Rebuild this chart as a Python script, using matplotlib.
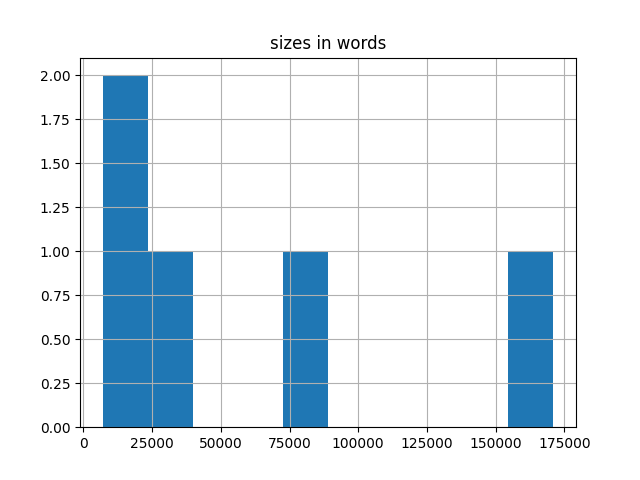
import matplotlib
matplotlib.use("Agg")
import matplotlib.pyplot as plt

# word counts of the documents
sizes_in_words = [7000, 15000, 30000, 80000, 171000]

fig, ax = plt.subplots(figsize=(6.4, 4.8), dpi=100)
ax.hist(sizes_in_words, bins=10, color="#1f77b4")
ax.grid(True)
ax.set_title("sizes in words")
fig.savefig("out.png")
